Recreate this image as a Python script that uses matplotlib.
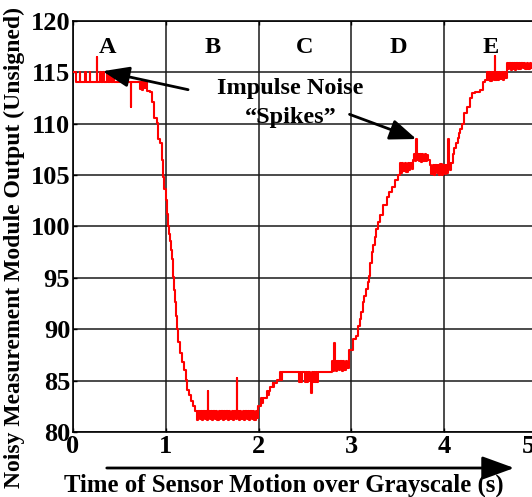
import numpy as np
import matplotlib.pyplot as plt
from matplotlib.patches import FancyArrowPatch
from matplotlib.transforms import offset_copy

plt.rcParams['font.family'] = ['Liberation Serif', 'DejaVu Serif']
plt.rcParams['font.weight'] = 'bold'

time_s = [
    0.000, 0.030, 0.072, 0.080, 0.128, 0.135, 0.180, 0.188, 0.255, 0.262,
    0.290, 0.297, 0.322, 0.329, 0.365, 0.372, 0.398, 0.405, 0.430, 0.437,
    0.620, 0.628, 0.720, 0.728, 0.748, 0.755, 0.772, 0.780, 0.800, 0.830,
    0.850, 0.872, 0.900, 0.915, 0.940, 0.958, 0.970, 0.985, 1.000, 1.012,
    1.025, 1.035, 1.045, 1.056, 1.067, 1.080, 1.090, 1.100, 1.110, 1.120,
    1.135, 1.150, 1.175, 1.195, 1.215,
    1.230, 1.250, 1.270, 1.292, 1.318,
    1.336, 1.350, 1.365, 1.378, 1.392, 1.405, 1.418, 1.432, 1.445, 1.455,
    1.460, 1.472, 1.486, 1.500, 1.514, 1.528, 1.542, 1.556, 1.570, 1.584,
    1.598, 1.612, 1.626, 1.640, 1.654, 1.668, 1.682, 1.696, 1.710, 1.724,
    1.738, 1.752, 1.767, 1.772, 1.786, 1.800, 1.814, 1.828, 1.842, 1.856,
    1.870, 1.884, 1.898, 1.912, 1.926, 1.940, 1.954, 1.968, 1.980,
    1.994, 2.030, 2.040, 2.050, 2.090, 2.100, 2.110, 2.123, 2.150, 2.160,
    2.170, 2.198, 2.230, 2.240, 2.250,
    2.435, 2.445, 2.460, 2.468, 2.500, 2.510, 2.525, 2.535, 2.550, 2.565,
    2.572, 2.585, 2.595, 2.610, 2.620, 2.630, 2.640,
    2.790, 2.800, 2.812, 2.820, 2.835, 2.850, 2.865, 2.880, 2.895, 2.910,
    2.925, 2.940, 2.955,
    2.974, 3.017, 3.050, 3.071, 3.090, 3.103, 3.125, 3.140, 3.157, 3.175,
    3.190, 3.205, 3.222, 3.238, 3.254, 3.270, 3.287, 3.308, 3.341, 3.384,
    3.410, 3.438, 3.470, 3.502,
    3.524, 3.535, 3.548, 3.560, 3.575, 3.590, 3.605, 3.620, 3.635, 3.650,
    3.664, 3.675, 3.685, 3.696, 3.702, 3.715, 3.725, 3.738, 3.750, 3.765,
    3.775, 3.790, 3.800, 3.812, 3.825,
    3.847, 3.860, 3.875, 3.890, 3.905, 3.918, 3.930, 3.945, 3.960, 3.975,
    3.990, 4.005, 4.020, 4.030, 4.041, 4.048, 4.060, 4.073, 4.095, 4.110,
    4.127, 4.145, 4.159, 4.175, 4.192, 4.213, 4.246, 4.278, 4.300, 4.332,
    4.386, 4.418, 4.440,
    4.461, 4.472, 4.485, 4.497, 4.510, 4.520, 4.532, 4.540, 4.547, 4.552,
    4.565, 4.578, 4.590, 4.605, 4.618, 4.630, 4.645, 4.655,
    4.677, 4.690, 4.702, 4.715, 4.728, 4.740, 4.752, 4.765, 4.778, 4.790,
    4.805, 4.818, 4.830, 4.845, 4.860, 4.875, 4.890, 4.905, 4.920, 4.935,
    4.950, 5.000,
]
output = [
    115.0, 114.0, 115.0, 114.0, 115.0, 114.0, 115.0, 114.0, 116.5, 114.0,
    115.0, 114.0, 115.0, 114.0, 115.0, 114.0, 115.0, 114.0, 115.0, 114.0,
    111.6, 114.0, 113.4, 114.0, 113.3, 114.0, 113.5, 114.0, 113.2, 113.1,
    112.1, 110.5, 110.1, 108.5, 108.1, 106.5, 104.8, 103.6, 102.6, 101.2,
    100.0, 99.3, 98.6, 97.7, 96.8, 95.1, 93.8, 92.6, 91.3, 90.0,
    88.8, 87.7, 86.8, 86.0, 85.1,
    84.1, 83.6, 83.0, 82.5, 82.0,
    81.2, 82.0, 81.3, 82.0, 81.2, 82.0, 81.3, 82.0, 81.2, 84.0,
    82.0, 81.3, 82.0, 81.2, 82.0, 81.3, 82.0, 81.2, 82.0, 81.3,
    82.0, 81.2, 82.0, 81.3, 82.0, 81.2, 82.0, 81.3, 82.0, 81.2,
    82.0, 81.3, 85.3, 82.0, 81.2, 82.0, 81.3, 82.0, 81.2, 82.0,
    81.3, 82.0, 81.2, 82.0, 81.3, 82.0, 81.2, 82.0, 81.4,
    82.5, 83.3, 82.8, 83.3, 84.0, 83.6, 84.0, 84.4, 84.8, 84.4,
    84.8, 85.1, 85.8, 85.1, 85.8,
    84.9, 85.8, 84.9, 85.8, 84.9, 85.8, 84.9, 85.8, 85.0, 83.8,
    85.8, 84.9, 85.8, 84.9, 85.8, 84.9, 85.8,
    86.9, 85.9, 88.7, 86.9, 85.9, 86.9, 86.0, 86.9, 85.9, 86.9,
    86.0, 86.9, 86.2,
    88.0, 89.0, 89.3, 90.3, 91.0, 91.7, 92.6, 93.2, 93.9, 94.6,
    95.2, 96.4, 97.5, 98.2, 99.0, 99.7, 100.4, 101.1, 102.1, 102.9,
    103.3, 103.8, 104.5, 105.0,
    106.2, 105.2, 106.2, 105.4, 106.2, 105.3, 106.2, 105.5, 106.2, 105.6,
    106.5, 107.0, 106.4, 108.5, 106.5, 107.0, 106.4, 107.0, 106.3, 107.0,
    106.4, 107.0, 106.4, 106.9, 106.5,
    106.0, 105.1, 106.0, 105.0, 106.0, 105.2, 106.0, 105.0, 106.1, 105.0,
    106.0, 105.1, 106.0, 105.2, 108.5, 106.2, 105.5, 106.2, 107.0, 107.6,
    108.1, 108.6, 109.1, 109.5, 110.0, 111.0, 111.6, 112.5, 113.0, 113.1,
    113.3, 114.0, 114.2,
    115.0, 114.2, 115.0, 114.1, 115.0, 114.3, 115.0, 114.2, 116.6, 114.2,
    115.0, 114.2, 115.0, 114.3, 115.0, 114.2, 115.0, 114.4,
    115.9, 115.3, 115.9, 115.2, 115.9, 115.3, 115.9, 115.2, 115.9, 115.3,
    115.9, 115.3, 115.9, 115.4, 115.9, 115.3, 115.9, 115.3, 115.9, 115.4,
    115.6, 115.6,
]

region_labels = ['A', 'B', 'C', 'D', 'E']
region_x = [0.37, 1.5, 2.5, 3.5, 4.5]
y_ticks = [80, 85, 90, 95, 100, 105, 110, 115, 120]
x_ticks = [0, 1, 2, 3, 4, 5]
x_ticklabels = ['0', '1', '2', '3', '4', '']

W, H = 532, 497
fig = plt.figure(figsize=(W / 100, H / 100), dpi=100)
# plot area runs slightly past the right edge (original was cropped)
ax = fig.add_axes([73 / W, 65 / H, 464 / W, 411.2 / H])

ax.plot(time_s, output, color='red', lw=1.5, drawstyle='steps-post', zorder=3)

ax.set_xlim(0, 5)
ax.set_ylim(80, 120)
ax.set_xticks(x_ticks)
ax.set_xticklabels(x_ticklabels)
ax.set_yticks(y_ticks)
ax.grid(True, color='#1a1a1a', lw=1.1)
for s in ax.spines.values():
    s.set_linewidth(1.2)
ax.tick_params(direction='in', length=3, width=1, top=True, right=True,
               labelsize=19, pad=2)
for lab in ax.get_xticklabels() + ax.get_yticklabels():
    lab.set_fontweight('bold')

# last tick label sits a little left of its tick in the original
ax.text(5, 0, '5', transform=offset_copy(ax.get_xaxis_transform(), fig=fig,
                                         x=-9, y=-3, units='dots'),
        ha='center', va='top', fontsize=19, fontweight='bold')

for lab, x in zip(region_labels, region_x):
    ax.text(x, 117.4, lab, ha='center', va='center', fontsize=17.5,
            fontweight='bold')

ax.text(2.34, 113.4, 'Impulse Noise', ha='center', va='center',
        fontsize=17.5, fontweight='bold')
ax.text(2.35, 110.6, '\u201cSpikes\u201d', ha='center', va='center',
        fontsize=17.5, fontweight='bold')

arrow = dict(arrowstyle='-|>,head_length=0.9,head_width=0.35', color='black',
             lw=2, mutation_scale=18, shrinkA=0, shrinkB=0)
ax.annotate('', xy=(0.32, 115.1), xytext=(1.24, 113.3), arrowprops=arrow)
ax.annotate('', xy=(3.70, 108.5), xytext=(2.98, 110.9), arrowprops=arrow)

# time arrow under the x axis
fig.patches.append(FancyArrowPatch(
    (104 / W, 29 / H), (517 / W, 29 / H), transform=fig.transFigure,
    arrowstyle='-|>,head_length=1.1,head_width=0.4', mutation_scale=18,
    color='black', lw=2))

fig.text(284 / W, 12 / H, 'Time of Sensor Motion over Grayscale (s)',
         ha='center', va='center', fontsize=17.8, fontweight='bold')
fig.text(14 / W, 249 / H, 'Noisy Measurement Module Output (Unsigned)',
         ha='center', va='center', rotation=90, fontsize=17, fontweight='bold')

fig.savefig('out.png', dpi=100)
